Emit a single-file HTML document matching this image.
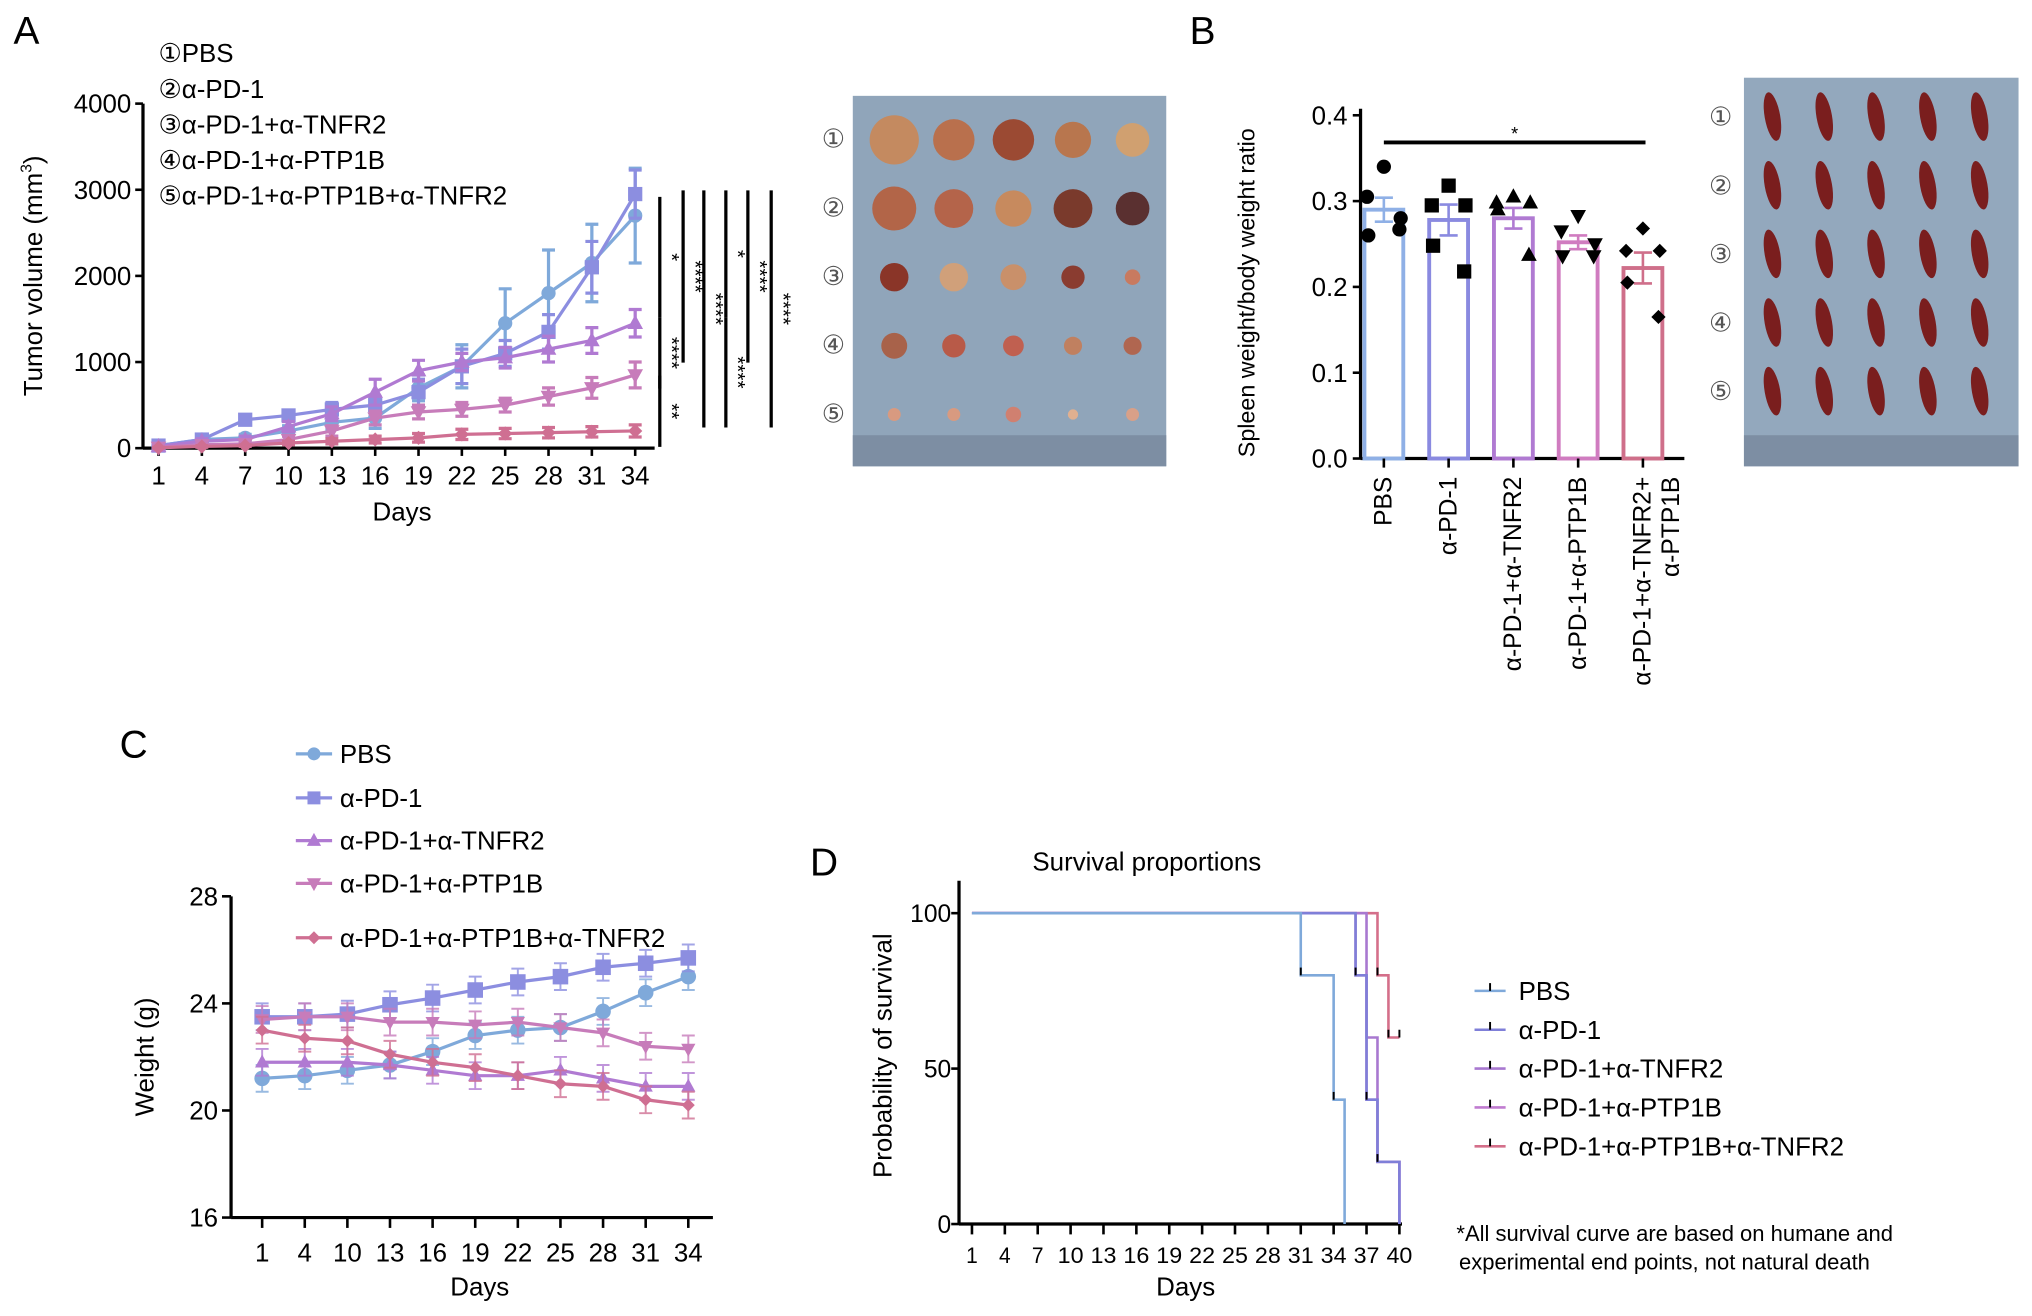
<!DOCTYPE html>
<html><head><meta charset="utf-8"><style>
html,body{margin:0;padding:0;background:#fff;}
svg{display:block;font-family:"Liberation Sans",Arial,sans-serif;}
</style></head><body>
<svg id="fig" width="2032" height="1316" viewBox="0 0 1568 1016" xmlns="http://www.w3.org/2000/svg">
<rect width="1568" height="1016" fill="#fff"/>
<g id="A"></g>
<g id="B"></g>
<g id="C"></g>
<g id="D"></g>
</svg>
<script>
// ---------- Panel A data ----------
const aDays = [1,4,7,10,13,16,19,22,25,28,31,34];
const aPBS = [30,100,120,200,300,350,700,950,1450,1800,2150,2700];
const aPD1 = [30,100,330,380,450,500,650,950,1100,1350,2100,2950];
const aTNFR2 = [20,80,100,250,400,650,900,1000,1050,1150,1250,1450];
const aPTP1B = [10,40,50,100,200,350,420,450,500,600,700,850];
const aTriple = [5,20,30,60,80,100,120,160,170,180,190,200];
const aErr = [[20,30,40,60,80,120,150,250,400,500,450,550],[20,30,40,60,80,100,150,200,150,200,300,280],[20,30,40,60,80,150,120,100,120,150,150,160],[10,20,20,40,60,80,80,80,80,100,120,150],[5,10,10,20,30,40,50,60,60,60,60,70]];
const aTicksY = [0,1000,2000,3000,4000];
// ---------- Panel B data ----------
const bCats = ["PBS","α-PD-1","α-PD-1+α-TNFR2","α-PD-1+α-PTP1B","α-PD-1+α-TNFR2+|α-PTP1B"];
const bMeans = [0.29,0.278,0.28,0.252,0.222];
const bSEM = [0.014,0.018,0.012,0.008,0.018];
const bPts = [[0.34,0.305,0.28,0.26,0.267],[0.318,0.295,0.295,0.248,0.218],[0.305,0.298,0.298,0.29,0.237],[0.283,0.265,0.25,0.236,0.236],[0.268,0.242,0.242,0.205,0.165]];
const bTicksY = [0.0,0.1,0.2,0.3,0.4];
// ---------- Panel C data ----------
const cDays = [1,4,10,13,16,19,22,25,28,31,34];
const cPBS = [21.2,21.3,21.5,21.7,22.2,22.8,23.0,23.1,23.7,24.4,25.0];
const cPD1 = [23.5,23.5,23.6,23.95,24.2,24.5,24.8,25.0,25.35,25.5,25.7];
const cTNFR2 = [21.8,21.8,21.8,21.7,21.5,21.3,21.3,21.5,21.2,20.9,20.9];
const cPTP1B = [23.4,23.5,23.5,23.3,23.3,23.2,23.3,23.1,22.9,22.4,22.3];
const cTriple = [23.0,22.7,22.6,22.1,21.8,21.6,21.3,21.0,20.9,20.4,20.2];
const cErr = 0.5;
const cTicksY = [16,20,24,28];
// ---------- Panel D data ----------
const dTicks = [1,4,7,10,13,16,19,22,25,28,31,34,37,40];
const dPBS = [[0,100],[31,80],[34,40],[35,0]];
const dPD1 = [[0,100],[36,80],[37,40],[38,20],[40,0]];
const dTNFR2 = [[0,100],[37,60],[38,20],[40,0]];
const dPTP1B = [[0,100],[36,80],[37,40],[38,20],[40,0]];
const dTriple = [[0,100],[38,80],[39,60],[40,60]];
const dTicksY = [0,50,100];

const COL = ["#7fa9da","#8c8ee0","#b07ad2","#c77cba","#cf6f92"];
const NS = "http://www.w3.org/2000/svg";
function el(tag, attrs, parent, text){
  const e = document.createElementNS(NS, tag);
  for (const k in attrs) e.setAttribute(k, attrs[k]);
  if (text !== undefined) e.textContent = text;
  parent.appendChild(e);
  return e;
}
function marker(g, type, x, y, r, c){
  let m;
  if (type==="circle") m = el("circle",{cx:x,cy:y,r:r,fill:c},g);
  else if (type==="square") m = el("rect",{x:x-r,y:y-r,width:2*r,height:2*r,fill:c},g);
  else if (type==="up") m = el("polygon",{points:`${x},${y-r*1.2} ${x-r*1.1},${y+r*0.8} ${x+r*1.1},${y+r*0.8}`,fill:c},g);
  else if (type==="down") m = el("polygon",{points:`${x},${y+r*1.2} ${x-r*1.1},${y-r*0.8} ${x+r*1.1},${y-r*0.8}`,fill:c},g);
  else m = el("polygon",{points:`${x},${y-r} ${x+r},${y} ${x},${y+r} ${x-r},${y}`,fill:c},g);
  
  
  return m;
}
const types = ["circle","square","up","down","diamond"];

// ================= Panel A =================
(function(){
  const g = document.getElementById("A");
  el("text",{x:10,y:34,"font-size":30},g,"A");
  const x0=110, yB=346, yT=80, xL=122, xR=490;
  const sx = i => xL + (xR-xL)*i/(aDays.length-1);
  const sy = v => yB - (yB-yT)*v/4000;
  const labels=["①PBS","②α-PD-1","③α-PD-1+α-TNFR2","④α-PD-1+α-PTP1B","⑤α-PD-1+α-PTP1B+α-TNFR2"];
  labels.forEach((t,i)=>{ const e=el("text",{x:122,y:48+i*27.5,"font-size":20},g,t);  });
  el("line",{x1:x0,y1:yT,x2:x0,y2:yB,stroke:"#000","stroke-width":2.5},g);
  el("line",{x1:x0,y1:yB,x2:505,y2:yB,stroke:"#000","stroke-width":2.5},g);
  aTicksY.forEach(v=>{ el("line",{x1:x0-6,y1:sy(v),x2:x0,y2:sy(v),stroke:"#000","stroke-width":2},g);
    el("text",{x:x0-9,y:sy(v)+7,"font-size":20,"text-anchor":"end"},g,v);});
  aDays.forEach((d,i)=>{ el("line",{x1:sx(i),y1:yB,x2:sx(i),y2:yB+6,stroke:"#000","stroke-width":2},g);
    el("text",{x:sx(i),y:yB+28,"font-size":20,"text-anchor":"middle"},g,d);});
  el("text",{x:310,y:402,"font-size":20,"text-anchor":"middle"},g,"Days");
  const yt=el("text",{x:0,y:0,"font-size":20,"text-anchor":"middle",transform:`translate(32,213) rotate(-90)`},g,"Tumor volume (mm");
  el("tspan",{"font-size":12,dy:-8},yt,"3"); el("tspan",{dy:8},yt,")");
  
  const series=[aPBS,aPD1,aTNFR2,aPTP1B,aTriple];
  series.forEach((s,k)=>{
    const sg=el("g",{},g);  
    el("polyline",{points:s.map((v,i)=>sx(i)+","+sy(v)).join(" "),fill:"none",stroke:COL[k],"stroke-width":2.5},sg);
    s.forEach((v,i)=>{ const e=aErr[k][i];
      el("path",{d:`M${sx(i)},${sy(v-e)}V${sy(v+e)}M${sx(i)-5},${sy(v-e)}h10M${sx(i)-5},${sy(v+e)}h10`,stroke:COL[k],"stroke-width":2.5,fill:"none"},sg);
      marker(sg,types[k],sx(i),sy(v),5.5,COL[k]);});
  });
  const bars=[[509,152,245,"*"],[509,245,300,"****"],[509,290,345,"**"],[527,147,280,"****"],[543,147,330,"****"],[560,147,245,"*"],[560,245,330,"****"],[577,147,280,"****"],[595,147,330,"****"]];
  bars.forEach(b=>{ el("line",{x1:b[0],y1:b[1],x2:b[0],y2:b[2],stroke:"#000","stroke-width":2.5},g);
    el("text",{x:0,y:0,"font-size":16,transform:`translate(${b[0]+4},${(b[1]+b[2])/2}) rotate(90)`,"text-anchor":"middle"},g,b[3]);});
  const pg=el("g",{},g);  
  el("rect",{x:658,y:74,width:242,height:286,fill:"#90a5ba"},pg);
  el("rect",{x:658,y:336,width:242,height:24,fill:"#7d8ea3"},pg);
  const sizes=[[19,16,16,14,13],[17,15,14,15,13],[11,11,10,9,6],[10,9,8,7,7],[5,5,6,4,5]];
  const tc=[["#c48a60","#b9704d","#9b4a33","#b8764e","#d0a070"],["#b26548","#b4644a","#c78a5e","#7a3a2c","#5a3030"],["#8a3528","#d0a07a","#c9906a","#8a3c30","#c87a60"],["#a8624a","#b85a48","#c06050","#c08060","#b06650"],["#d89a80","#d89a80","#d08070","#e0b090","#d8a088"]];
  for(let r=0;r<5;r++){ el("text",{x:643,y:114+r*53,"font-size":20,"text-anchor":"middle",fill:"#555"},g,"①②③④⑤"[r]);
    for(let c=0;c<5;c++) el("circle",{cx:690+c*46,cy:108+r*53,r:sizes[r][c],fill:tc[r][c]},pg);}
})();

// ================= Panel B =================
(function(){
  const g=document.getElementById("B");
  el("text",{x:918,y:34,"font-size":30},g,"B");
  const x0=1050,yB=354,yT=89;
  const sy=v=>yB-(yB-yT)*v/0.4;
  const sx=i=>1068+i*50;
  el("line",{x1:x0,y1:yT-5,x2:x0,y2:yB,stroke:"#000","stroke-width":2.5},g);
  el("line",{x1:x0,y1:yB,x2:1300,y2:yB,stroke:"#000","stroke-width":2.5},g);
  bTicksY.forEach(v=>{ el("line",{x1:x0-6,y1:sy(v),x2:x0,y2:sy(v),stroke:"#000","stroke-width":2},g);
    el("text",{x:x0-10,y:sy(v)+7,"font-size":20,"text-anchor":"end"},g,v.toFixed(1));});
  el("text",{x:0,y:0,"font-size":18,"text-anchor":"middle",transform:"translate(968,226) rotate(-90)"},g,"Spleen weight/body weight ratio");
  const bc=["#8fb0e6","#8a8ae0","#b07ad2","#d07cc0","#cf6f8a"];
  bMeans.forEach((m,i)=>{ const x=sx(i);
    const r=el("rect",{x:x-15,y:sy(m),width:30,height:yB-sy(m),fill:"none",stroke:bc[i],"stroke-width":3},g);
     
    el("path",{d:`M${x},${sy(m-bSEM[i])}V${sy(m+bSEM[i])}M${x-7},${sy(m-bSEM[i])}h14M${x-7},${sy(m+bSEM[i])}h14`,stroke:bc[i],"stroke-width":2,fill:"none"},g);
    const offs=[0,-13,13,-12,12];
    bPts[i].forEach((v,j)=>marker(g,types[i],x+offs[j],sy(v),5.5,"#000"));
    el("line",{x1:x,y1:yB,x2:x,y2:yB+7,stroke:"#000","stroke-width":2},g);
    const parts=bCats[i].split("|");
    parts.forEach((p,k)=>{ const t=el("text",{x:0,y:0,"font-size":19,"text-anchor":"end",transform:`translate(${x+6+k*22},${yB+14}) rotate(-90)`},g,p); });
  });
  el("line",{x1:1068,y1:110,x2:1270,y2:110,stroke:"#000","stroke-width":3},g);
  el("text",{x:1169,y:108,"font-size":14,"text-anchor":"middle"},g,"*");
  const pg=el("g",{},g);  
  el("rect",{x:1346,y:60,width:212,height:300,fill:"#93a8bd"},pg);
  el("rect",{x:1346,y:336,width:212,height:24,fill:"#7d8ea3"},pg);
  for(let r=0;r<5;r++){ el("text",{x:1328,y:97+r*53,"font-size":20,"text-anchor":"middle",fill:"#555"},g,"①②③④⑤"[r]);
    for(let c=0;c<5;c++) el("ellipse",{cx:1368+c*40,cy:90+r*53,rx:6,ry:19,fill:"#7a1e1e",transform:`rotate(-10 ${1368+c*40} ${90+r*53})`},pg);}
})();

// ================= Panel C =================
(function(){
  const g=document.getElementById("C");
  el("text",{x:92,y:585,"font-size":30},g,"C");
  const x0=178,yB=940,yT=692,xL=202,xR=531;
  const sx=i=>xL+(xR-xL)*i/(cDays.length-1);
  const sy=v=>yB-(yB-yT)*(v-16)/12;
  const names=["PBS","α-PD-1","α-PD-1+α-TNFR2","α-PD-1+α-PTP1B","α-PD-1+α-PTP1B+α-TNFR2"];
  const ly=[582,616,649,682,724];
  names.forEach((n,k)=>{ const lg=el("g",{},g);  
    el("line",{x1:228,y1:ly[k],x2:256,y2:ly[k],stroke:COL[k],"stroke-width":2.5},lg); marker(lg,types[k],242,ly[k],5,COL[k]);
    el("text",{x:262,y:ly[k]+7,"font-size":20},lg,n);});
  el("line",{x1:x0,y1:yT,x2:x0,y2:yB,stroke:"#000","stroke-width":2.5},g);
  el("line",{x1:x0,y1:yB,x2:550,y2:yB,stroke:"#000","stroke-width":2.5},g);
  cTicksY.forEach(v=>{ el("line",{x1:x0-7,y1:sy(v),x2:x0,y2:sy(v),stroke:"#000","stroke-width":2},g);
    el("text",{x:x0-10,y:sy(v)+7,"font-size":20,"text-anchor":"end"},g,v);});
  cDays.forEach((d,i)=>{ el("line",{x1:sx(i),y1:yB,x2:sx(i),y2:yB+8,stroke:"#000","stroke-width":2},g);
    el("text",{x:sx(i),y:yB+34,"font-size":20,"text-anchor":"middle"},g,d);});
  el("text",{x:370,y:1000,"font-size":20,"text-anchor":"middle"},g,"Days");
  el("text",{x:0,y:0,"font-size":20,"text-anchor":"middle",transform:"translate(118,816) rotate(-90)"},g,"Weight (g)");
  [cPBS,cPD1,cTNFR2,cPTP1B,cTriple].forEach((s,k)=>{
    const sg=el("g",{},g);  
    el("polyline",{points:s.map((v,i)=>sx(i)+","+sy(v)).join(" "),fill:"none",stroke:COL[k],"stroke-width":2.5},sg);
    s.forEach((v,i)=>{ el("path",{d:`M${sx(i)},${sy(v-cErr)}V${sy(v+cErr)}M${sx(i)-5},${sy(v-cErr)}h10M${sx(i)-5},${sy(v+cErr)}h10`,stroke:COL[k],"stroke-width":1.5,fill:"none",opacity:0.8},sg);
      marker(sg,types[k],sx(i),sy(v),k<2?6:5,COL[k]);});
  });
})();

// ================= Panel D =================
(function(){
  const g=document.getElementById("D");
  el("text",{x:625,y:676,"font-size":30},g,"D");
  el("text",{x:885,y:672,"font-size":20,"text-anchor":"middle"},g,"Survival proportions");
  const x0=740,yB=945,yT=705;
  const sx=d=>750+(1080-750)*(d-1)/39;
  const sy=v=>yB-(yB-yT)*v/100;
  el("line",{x1:x0,y1:680,x2:x0,y2:yB,stroke:"#000","stroke-width":2.5},g);
  el("line",{x1:x0,y1:yB,x2:1082,y2:yB,stroke:"#000","stroke-width":2.5},g);
  dTicksY.forEach(v=>{ el("line",{x1:x0-6,y1:sy(v),x2:x0,y2:sy(v),stroke:"#000","stroke-width":2},g);
    el("text",{x:x0-6,y:sy(v)+7,"font-size":19,"text-anchor":"end"},g,v);});
  dTicks.forEach(d=>{ el("line",{x1:sx(d),y1:yB,x2:sx(d),y2:yB+8,stroke:"#000","stroke-width":2},g);
    el("text",{x:sx(d),y:yB+30,"font-size":17,"text-anchor":"middle",textLength:d>9?20:9,lengthAdjust:"spacingAndGlyphs"},g,d);});
  el("text",{x:915,y:1000,"font-size":20,"text-anchor":"middle"},g,"Days");
  el("text",{x:0,y:0,"font-size":20,"text-anchor":"middle",transform:"translate(688,815) rotate(-90)"},g,"Probability of survival");
  const cols=["#7fa9da","#7f7fd8","#a878d0","#c07cd0","#d46f8a"];
  const curves=[dPBS,dPD1,dTNFR2,dPTP1B,dTriple];
  for(let k=curves.length-1;k>=0;k--){
    const s=curves[k];
    let d=`M${sx(1)},${sy(s[0][1])}`;
    for(let i=1;i<s.length;i++){ d+=`H${sx(s[i][0])}V${sy(s[i][1])}`; }
    const p=el("path",{d:d,fill:"none",stroke:cols[k],"stroke-width":2},g);
     
    for(let i=1;i<s.length;i++) if(s[i][1]>0) el("line",{x1:sx(s[i][0]),y1:sy(s[i][1]),x2:sx(s[i][0]),y2:sy(s[i][1])-6,stroke:"#000","stroke-width":1.5},g);
  }
  const names=["PBS","α-PD-1","α-PD-1+α-TNFR2","α-PD-1+α-PTP1B","α-PD-1+α-PTP1B+α-TNFR2"];
  names.forEach((n,k)=>{ const y=765+k*30; const lg=el("g",{},g);  
    el("line",{x1:1138,y1:y,x2:1162,y2:y,stroke:cols[k],"stroke-width":2},lg);
    el("line",{x1:1150,y1:y,x2:1150,y2:y-6,stroke:"#000","stroke-width":1.5},lg);
    el("text",{x:1172,y:y+7,"font-size":20},lg,n);});
  el("text",{x:1124,y:958,"font-size":17},g,"*All survival curve are based on humane and");
  el("text",{x:1126,y:980,"font-size":17},g,"experimental end points, not natural death");
})();
</script>
</body></html>
